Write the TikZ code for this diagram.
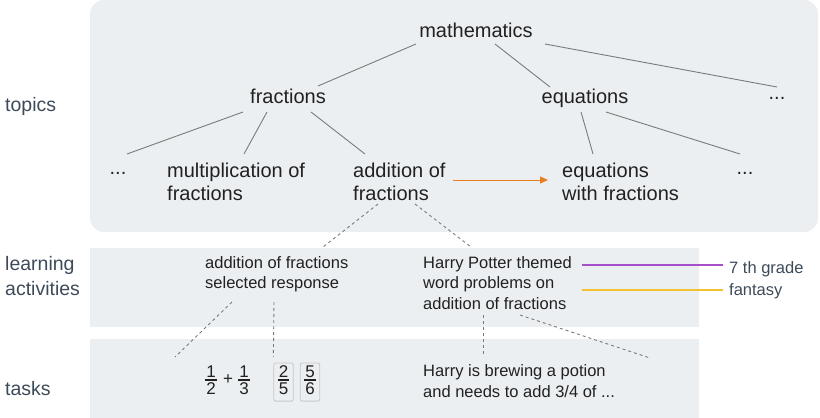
\documentclass[tikz,border=0pt]{standalone}
\usepackage{fontspec}
\setmainfont{Liberation Sans}
\usetikzlibrary{arrows.meta, positioning, calc}
\definecolor{panel}{HTML}{ECEFF1}
\definecolor{ink}{HTML}{212121}
\definecolor{slate}{HTML}{3D4A59}
\definecolor{edgegray}{HTML}{7A7A7A}
\definecolor{prereq}{HTML}{E67E22}
\definecolor{gradecol}{HTML}{A64FC8}
\definecolor{themecol}{HTML}{F2C230}
% stacked fraction for the task panel
\newcommand\fr[2]{{\setlength\arrayrulewidth{1.2pt}\begin{tabular}{@{\hspace{1pt}}c@{\hspace{1pt}}}#1\\[-4pt]\hline\rule{0pt}{14pt}#2\end{tabular}}}

\begin{document}
\begin{tikzpicture}[x=1pt, y=-1pt,
  topic/.style={font=\fontsize{20}{23}\selectfont, text=ink, inner sep=0pt, align=left},
  act/.style={font=\fontsize{16.5}{20.5}\selectfont, text=ink, inner sep=0pt, align=left},
  lane/.style={font=\fontsize{19.5}{25}\selectfont, text=slate, inner sep=0pt, align=left, anchor=base west},
  tagtext/.style={font=\fontsize{16.5}{20}\selectfont, text=slate, inner sep=0pt, anchor=base west},
  fracbox/.style={draw=gray!45, line width=0.8pt, rounded corners=2pt, inner xsep=4pt, inner ysep=0.5pt},
  tree/.style={edgegray, line width=0.9pt},
  link/.style={edgegray, line width=0.9pt, dash pattern=on 3pt off 3pt}]
\useasboundingbox (0,0) rectangle (820,418);
% Panels
\fill[panel, rounded corners=14pt] (90,0) rectangle (818,232);
\fill[panel] (90,248) rectangle (699,327);
\fill[panel] (90,339) rectangle (699,418);
% Lane labels (multi-line nodes sit on their last baseline)
\node[lane] (ltop) at (5,111) {topics};
\node[lane] (lact) at (5,295) {learning\\activities};
\node[lane] (ltask) at (5,395) {tasks};
% Topic tree
\node[topic, anchor=base] (math) at (476,37) {mathematics};
\node[topic, anchor=base] (frac) at (288,103) {fractions};
\node[topic, anchor=base] (equ) at (585,103) {equations};
\node[topic, anchor=base] (dotsR) at (777,99) {...};
\node[topic, anchor=base] (dotsL) at (118,174) {...};
\node[topic, anchor=base west] (mult) at (167,200) {multiplication of\\fractions};
\node[topic, anchor=base west] (add) at (353,200) {addition of\\fractions};
\node[topic, anchor=base west] (eqfr) at (562,200) {equations\\with fractions};
\node[topic, anchor=base] (dotsE) at (745,174) {...};
\draw[tree] ($(math.base)+(-60,7)$) -- ($(frac.base)+(30,-17)$);
\draw[tree] ($(math.base)+(19,7)$) -- ($(equ.base)+(-35,-16)$);
\draw[tree] ($(math.base)+(69,7)$) -- ($(dotsR.base)+(0,-12)$);
\draw[tree] ($(frac.base)+(-45,9)$) -- ($(dotsL.base)+(9,-20)$);
\draw[tree] ($(frac.base)+(-21,9)$) -- ($(mult.base west)+(77,-46)$);
\draw[tree] ($(frac.base)+(23,9)$) -- ($(add.base west)+(12,-46)$);
\draw[tree] ($(equ.base)+(-4,9)$) -- ($(eqfr.base west)+(31,-46)$);
\draw[tree] ($(equ.base)+(21,9)$) -- ($(dotsE.base)+(-5,-20)$);
% Prerequisite arrow
\draw[prereq, line width=1pt, -{Triangle[length=8pt, width=7pt]}] ($(add.base west)+(100,-20)$) -- ($(eqfr.base west)+(-14,-20)$);
% Learning activities
\node[act, anchor=base west] (sel) at (205,288.5) {addition of fractions\\selected response};
\node[act, anchor=base west] (hp) at (423,309) {Harry Potter themed\\word problems on\\addition of fractions};
\node[tagtext] (grade) at (729,273) {7 th grade};
\node[tagtext] (fant) at (729,295) {fantasy};
\draw[link] ($(add.base west)+(25,4)$) -- ($(sel.base west)+(118,-41.5)$);
\draw[link] ($(add.base west)+(62,4)$) -- ($(hp.base west)+(48,-62)$);
\draw[gradecol, line width=1.3pt] ($(hp.base west)+(159,-44)$) -- ($(grade.base west)+(-6,-8)$);
\draw[themecol, line width=1.3pt] ($(hp.base west)+(159,-19)$) -- ($(fant.base west)+(-6,-5)$);
% Tasks
\node[act, font=\fontsize{17}{20}\selectfont] (f12) at (211,382) {\fr{1}{2}};
\node[act, font=\fontsize{17}{20}\selectfont] (plus) at (228,380) {+};
\node[act, font=\fontsize{17}{20}\selectfont] (f13) at (244,382) {\fr{1}{3}};
\node[act, fracbox, font=\fontsize{17}{20}\selectfont] (b25) at (283.5,382) {\fr{2}{5}};
\node[act, fracbox, font=\fontsize{17}{20}\selectfont] (b56) at (310,382) {\fr{5}{6}};
\node[act, anchor=base west] (potion) at (423,397) {Harry is brewing a potion\\and needs to add 3/4 of ...};
\coordinate (selMore) at (175,357);
\coordinate (hpMore) at (650,358);
\draw[link] ($(sel.base west)+(27,13.5)$) -- (selMore);
\draw[link] ($(sel.base west)+(69,13.5)$) -- ($(b25.north west)+(0,-6)$);
\draw[link] ($(hp.base west)+(60,6)$) -- ($(potion.base west)+(60,-42)$);
\draw[link] ($(hp.base west)+(97,6)$) -- (hpMore);
\end{tikzpicture}
\end{document}
